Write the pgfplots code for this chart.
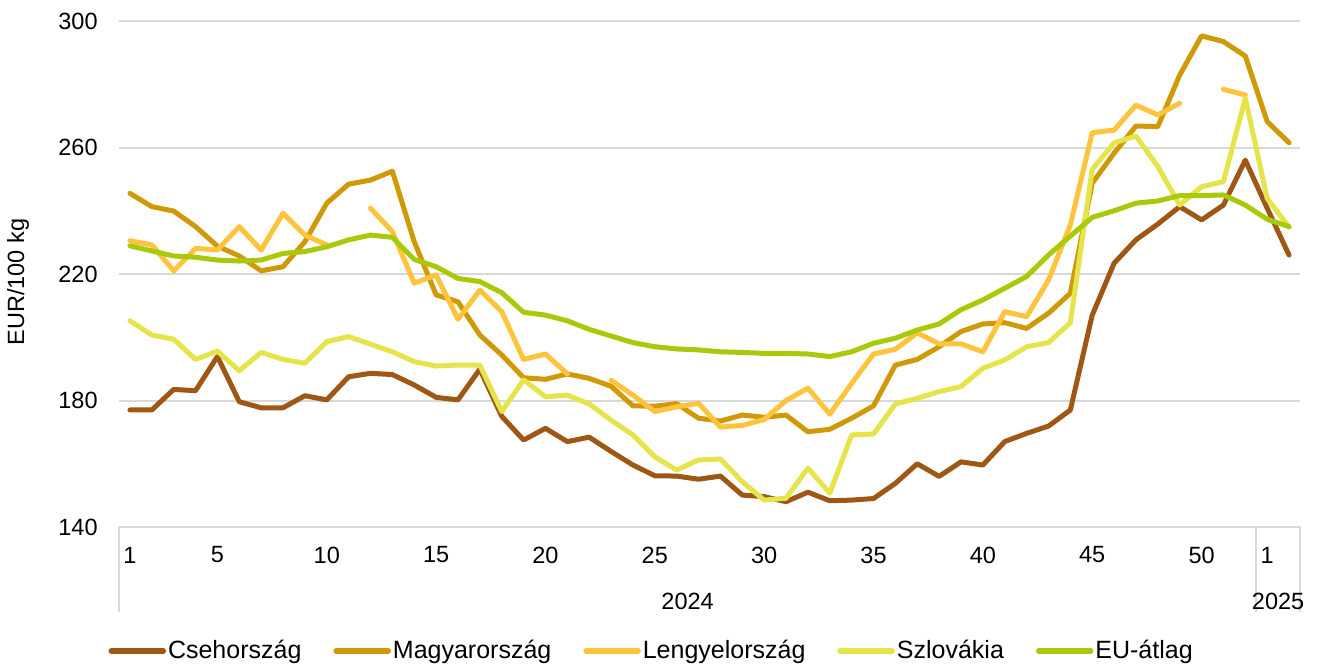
\documentclass[border=0pt]{standalone}
\usepackage{fontspec}
\setmainfont{Liberation Sans}
\usepackage{pgfplots}
\usepackage{pgfplotstable}
\pgfplotsset{compat=1.18}
\definecolor{cz}{RGB}{158,87,20}
\definecolor{hu}{RGB}{208,153,8}
\definecolor{pl}{RGB}{255,196,60}
\definecolor{sk}{RGB}{230,228,75}
\definecolor{eu}{RGB}{168,202,10}
\definecolor{gridc}{RGB}{217,217,217}

\pgfplotstableread{
w cz hu pl sk eu
1 177 245.5 230.5 205.2 228.9
2 177 241.3 229.2 200.7 227.3
3 183.5 239.9 221 199.4 225.7
4 183.1 235 228.1 193 225.3
5 193.9 228.8 227.6 195.6 224.4
6 179.6 225.7 235 189.4 224.1
7 177.7 221 227.6 195.2 224.4
8 177.7 222.3 239.2 193 226.5
9 181.5 230.2 232.3 191.8 227.1
10 180.2 242.4 229.2 198.6 228.6
11 187.5 248.4 nan 200.2 230.8
12 188.6 249.7 240.8 197.8 232.3
13 188.2 252.5 233.4 195.4 231.6
14 184.9 230.2 217.1 192.3 224.6
15 181 213.4 219.7 190.9 222.3
16 180.2 211.2 205.7 191.2 218.6
17 189.9 200.7 214.9 191.2 217.6
18 175 194.4 208.1 176.5 214.1
19 167.5 187.2 193 186.5 207.9
20 171.2 186.7 194.7 181.2 207
21 167 188.4 188.4 181.7 205.2
22 168.4 187 nan 178.9 202.5
23 163.9 184.5 186.4 173.8 200.4
24 159.6 178.3 181.7 169.1 198.3
25 156.2 178.2 176.5 162.2 197
26 156.1 179 178 158 196.3
27 155.1 174.4 179.1 161.2 196
28 156.1 173.5 171.6 161.5 195.4
29 150.1 175.4 172.1 154.3 195.2
30 149.6 174.7 174 148.5 194.9
31 148 175.4 180 149.1 194.9
32 151 170.1 183.9 158.6 194.7
33 148.3 170.9 175.7 150.7 193.9
34 148.5 174.4 185.4 169.1 195.4
35 149 178.3 194.7 169.4 198.1
36 153.8 191.2 196.2 178.9 199.7
37 160 193 201.4 180.7 202.3
38 156 197 197.9 182.8 204.2
39 160.6 201.8 197.9 184.4 208.7
40 159.6 204.2 195.4 190.2 211.8
41 167 204.6 208.1 192.8 215.5
42 169.6 202.8 206.5 197 219.2
43 171.9 207.6 218.1 198.3 226
44 177 213.9 235.5 204.6 232
45 207 248.7 264.7 253.1 237.9
46 223.4 258.2 265.5 261.5 240
47 230.8 266.8 273.4 263.6 242.4
48 235.8 266.6 270.3 254 243.1
49 241.3 282.9 274 241.8 244.8
50 237.1 295.3 nan 247.6 244.8
51 241.8 293.5 278.4 249.2 245
52 256 288.9 276.6 275.6 241.8
53 240.8 268.2 nan 243.9 237.3
54 226 261.5 nan 234.8 235
}\data

\begin{document}
\begin{tikzpicture}[font=\fontsize{11.75}{14}\selectfont]
\path[use as bounding box] (-59.5pt,-69pt) rectangle (600pt,263.5pt);
\begin{axis}[
  at={(0,0)}, anchor=south west,
  scale only axis, width=590.5pt, height=253pt,
  xmin=0.5, xmax=54.5, ymin=140, ymax=300,
  ytick={140,180,220,260,300},
  xtick={1,5,10,15,20,25,30,35,40,45,50,53},
  xticklabels={1,5,10,15,20,25,30,35,40,45,50,1},
  /pgf/number format/assume math mode=true,
  major tick length=0pt,
  tick style={draw=none},
  axis line style={draw=none},
  ymajorgrids,
  grid style={gridc, line width=1pt},
  yticklabel style={anchor=east, inner sep=0pt, xshift=-10.5pt},
  xticklabel style={anchor=center, inner sep=0pt, yshift=-14pt},
  clip=false,
  unbounded coords=jump,
  every axis plot/.append style={line width=2.5pt, line join=round, line cap=round, mark=none},
  legend columns=5,
  legend style={at={(axis description cs:0.451,-0.245)}, anchor=center, draw=none, fill=none,
    font=\fontsize{12.5}{15}\selectfont,
    /tikz/every even column/.append style={column sep=15pt},
    nodes={inner sep=1pt}},
  legend image code/.code={\draw[#1, line width=2.75pt, line cap=round] (0pt,0pt) -- (26pt,0pt);},
]
\addplot[cz] table[x=w, y=cz] {\data};
\addlegendentry{Csehország}
\addplot[hu] table[x=w, y=hu] {\data};
\addlegendentry{Magyarország}
\addplot[pl] table[x=w, y=pl] {\data};
\addlegendentry{Lengyelország}
\addplot[sk] table[x=w, y=sk] {\data};
\addlegendentry{Szlovákia}
\addplot[eu] table[x=w, y=eu] {\data};
\addlegendentry{EU-átlag}
\draw[gridc, line width=1pt] (axis cs:0.5,140) -- ([yshift=-42.5pt]axis cs:0.5,140);
\draw[gridc, line width=1pt] (axis cs:52.5,140) -- ([yshift=-42.5pt]axis cs:52.5,140);
\draw[gridc, line width=1pt] (axis cs:54.5,140) -- ([yshift=-42.5pt]axis cs:54.5,140);
\node[anchor=center, inner sep=0pt] at ([yshift=-37pt]axis cs:26.5,140) {2024};
\node[anchor=center, inner sep=0pt] at ([yshift=-37pt]axis cs:53.5,140) {2025};
\end{axis}
\node[rotate=90, anchor=center, inner sep=0pt] at (-50.5pt,122.5pt) {EUR/100 kg};
\end{tikzpicture}
\end{document}
